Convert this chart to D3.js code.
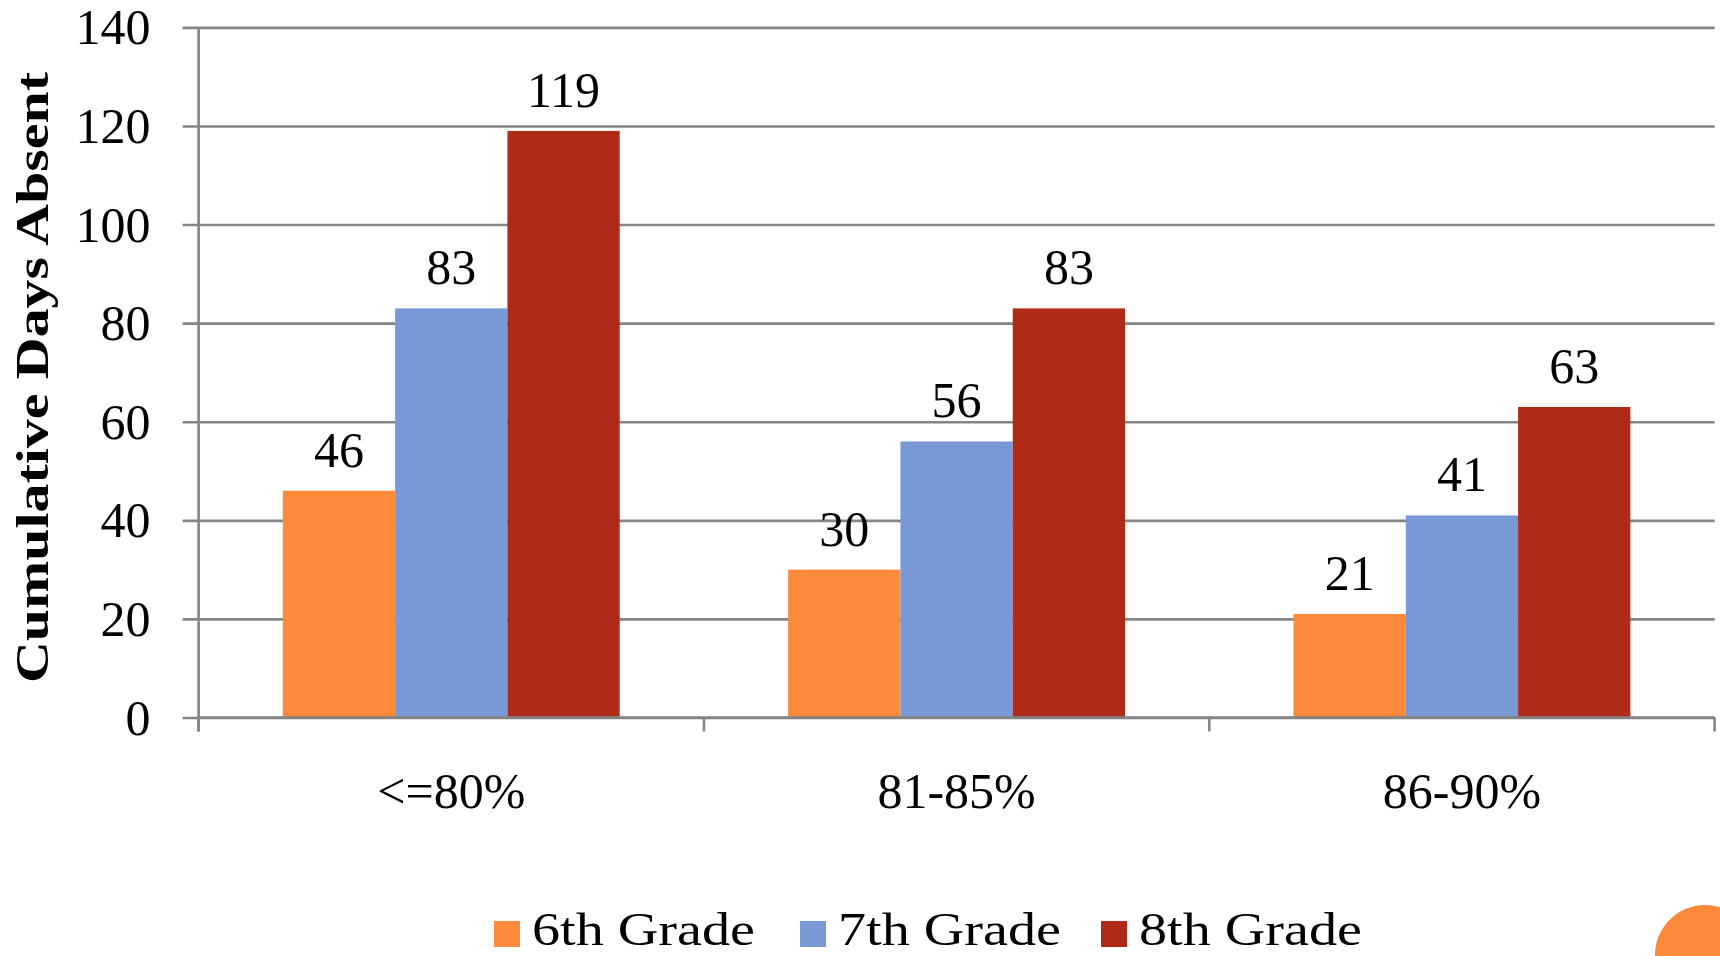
<!DOCTYPE html>
<html>
<head>
<meta charset="utf-8">
<script src="https://cdn.jsdelivr.net/npm/d3@7"></script>
<style>
  html, body { margin: 0; padding: 0; background: #ffffff; }
  svg { display: block; }
  text { font-family: "Liberation Serif", "Times New Roman", serif; fill: #000; }
</style>
</head>
<body>
<svg id="chart" width="1720" height="956"></svg>
<script>
// Attendance bands and cumulative days absent per grade
const categories = ["<=80%", "81-85%", "86-90%"];
const seriesNames = ["6th Grade", "7th Grade", "8th Grade"];
const grade6 = [46, 30, 21];
const grade7 = [83, 56, 41];
const grade8 = [119, 83, 63];
const yTicks = [0, 20, 40, 60, 80, 100, 120, 140];
const colors = ["#fd8a3a", "#7899d6", "#b02b17"];

const seriesValues = [grade6, grade7, grade8];

const svg = d3.select("#chart");
const plot = { left: 198.6, right: 1714.6, top: 27.4, bottom: 717.5 };

const x0 = d3.scaleBand().domain(categories).range([plot.left, plot.right]).paddingInner(0).paddingOuter(0);
const x1 = d3.scaleBand().domain(seriesNames).range([0, x0.bandwidth()]).paddingInner(0).paddingOuter(0.75);
const y = d3.scaleLinear().domain([0, 140]).range([plot.bottom, plot.top]);
const color = d3.scaleOrdinal().domain(seriesNames).range(colors);

const gridColor = "#858585";

// Horizontal gridlines with short outer ticks
const yAxis = d3.axisLeft(y).tickValues(yTicks).tickSize(-(plot.right - plot.left)).tickFormat(d => d);
const gy = svg.append("g").attr("transform", `translate(${plot.left},0)`).call(yAxis);
gy.select(".domain").remove();
gy.selectAll(".tick line").attr("x1", -16).attr("stroke", gridColor).attr("stroke-width", 2.6);
gy.selectAll(".tick text")
  .attr("x", -48)
  .attr("dy", "0.33em")
  .style("font-size", "50px")
  .style("font-family", "'Liberation Serif', serif")
  .attr("fill", "#000");

// Bars
const groups = svg.append("g").selectAll("g")
  .data(categories)
  .join("g")
  .attr("transform", d => `translate(${x0(d)},0)`);

groups.selectAll("rect")
  .data((c, i) => seriesNames.map((s, k) => ({ s, v: seriesValues[k][i] })))
  .join("rect")
  .attr("x", d => x1(d.s))
  .attr("y", d => y(d.v))
  .attr("width", x1.bandwidth())
  .attr("height", d => y(0) - y(d.v))
  .attr("fill", d => color(d.s));

// Value labels above bars
groups.selectAll("text.val")
  .data((c, i) => seriesNames.map((s, k) => ({ s, v: seriesValues[k][i] })))
  .join("text")
  .attr("class", "val")
  .attr("x", d => x1(d.s) + x1.bandwidth() / 2)
  .attr("y", d => y(d.v) - 24)
  .attr("text-anchor", "middle")
  .style("font-size", "50px")
  .text(d => d.v);

// Category axis along the baseline
const xAxis = d3.axisBottom(x0).tickSize(0).tickFormat(d => d);
const gx = svg.append("g").attr("transform", `translate(0,${plot.bottom})`).call(xAxis);
gx.select(".domain").attr("stroke", gridColor).attr("stroke-width", 2.6)
  .attr("d", `M${plot.left},0H${plot.right}`);
gx.selectAll(".tick line").remove();
gx.selectAll(".tick text")
  .attr("y", 90)
  .attr("dy", 0)
  .style("font-size", "50px")
  .style("font-family", "'Liberation Serif', serif")
  .attr("fill", "#000");

// Category boundary ticks
const bounds = categories.map(c => x0(c)).concat([x0(categories[categories.length - 1]) + x0.bandwidth()]);
svg.append("g").selectAll("line")
  .data(bounds)
  .join("line")
  .attr("x1", d => d).attr("x2", d => d)
  .attr("y1", plot.bottom).attr("y2", plot.bottom + 14)
  .attr("stroke", gridColor).attr("stroke-width", 2.6);

// Vertical value axis line
svg.append("line")
  .attr("x1", plot.left).attr("x2", plot.left)
  .attr("y1", plot.top).attr("y2", plot.bottom + 14)
  .attr("stroke", gridColor).attr("stroke-width", 2.6);

// Axis title
svg.append("text")
  .attr("transform", `translate(48,${(72 + 683) / 2}) rotate(-90)`)
  .attr("text-anchor", "middle")
  .attr("textLength", 611)
  .attr("lengthAdjust", "spacingAndGlyphs")
  .style("font-size", "46px")
  .style("font-weight", "bold")
  .text("Cumulative Days Absent");

// Legend
const legendX = [494, 800, 1101];
const legend = svg.append("g").selectAll("g")
  .data(seriesNames)
  .join("g")
  .attr("transform", (d, i) => `translate(${legendX[i]},0)`);
legend.append("rect")
  .attr("x", 0).attr("y", 921)
  .attr("width", 26).attr("height", 26)
  .attr("fill", d => color(d));
legend.append("text")
  .attr("x", 38).attr("y", 945)
  .attr("textLength", 223)
  .attr("lengthAdjust", "spacingAndGlyphs")
  .style("font-size", "46px")
  .text(d => d);

// Corner accent
svg.append("circle")
  .attr("cx", 1705).attr("cy", 955).attr("r", 50)
  .attr("fill", "#fd8a3a");
</script>
</body>
</html>
